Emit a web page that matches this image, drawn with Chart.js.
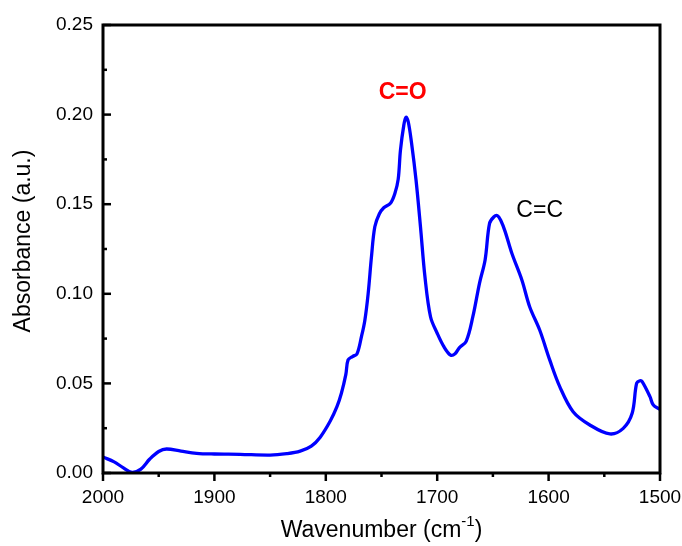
<!DOCTYPE html>
<html>
<head>
<meta charset="utf-8">
<script src="https://cdn.jsdelivr.net/npm/chart.js@4/dist/chart.umd.min.js"></script>
<style>
  html, body { margin: 0; padding: 0; background: #fff; }
  canvas { display: block; }
</style>
</head>
<body>
<canvas id="ftir-chart" width="682" height="546"></canvas>
<script>
// FTIR absorbance spectrum
const wavenumbers = [
  2000, 1990, 1982, 1974, 1966, 1958, 1950, 1943, 1930, 1916, 1900, 1877,
  1850, 1835, 1823, 1813, 1805, 1796, 1790, 1786, 1782, 1780, 1776, 1772,
  1768, 1765, 1762, 1759, 1756, 1752, 1748, 1742, 1738, 1735, 1733, 1730,
  1728, 1726, 1723, 1719, 1715, 1711, 1706, 1700, 1694, 1688, 1684, 1680,
  1674, 1668, 1662, 1657, 1653, 1649, 1646, 1643, 1639, 1633, 1624, 1617,
  1608, 1599, 1590, 1578, 1563, 1545, 1533, 1525, 1521, 1518, 1516, 1509,
  1506, 1500,
];
const absorbance = [
  0.0089, 0.0062, 0.0030, 0.0004, 0.0022, 0.0078, 0.0120, 0.0134, 0.0122, 0.0110, 0.0106, 0.0104,
  0.0100, 0.0108, 0.0122, 0.0150, 0.0200, 0.0290, 0.0370, 0.0445, 0.0550, 0.0631, 0.0650, 0.0665,
  0.0761, 0.0850, 0.1000, 0.1207, 0.1374, 0.1445, 0.1480, 0.1505, 0.1560, 0.1640, 0.1800, 0.1940,
  0.1985, 0.1960, 0.1840, 0.1635, 0.1374, 0.1095, 0.0872, 0.0780, 0.0705, 0.0658, 0.0665, 0.0700,
  0.0735, 0.0872, 0.1060, 0.1189, 0.1393, 0.1430, 0.1436, 0.1410, 0.1347, 0.1226, 0.1077, 0.0928,
  0.0798, 0.0631, 0.0482, 0.0342, 0.0268, 0.0218, 0.0249, 0.0333, 0.0500, 0.0515, 0.0510, 0.0426,
  0.0379, 0.0355,
];
const xTickValues = [2000, 1900, 1800, 1700, 1600, 1500];
const yTickValues = [0.00, 0.05, 0.10, 0.15, 0.20, 0.25];

const FONT = 'Arial, "Liberation Sans", sans-serif';

// frame, ticks, axis titles and peak labels
const framePlugin = {
  id: 'frame',
  afterDraw(chart) {
    const ctx = chart.ctx;
    const { left, right, top, bottom } = chart.chartArea;
    const xs = chart.scales.x;
    const ys = chart.scales.y;
    ctx.save();
    ctx.strokeStyle = '#000';
    ctx.lineWidth = 3;
    ctx.strokeRect(left, top, right - left, bottom - top);

    ctx.lineWidth = 2.5;
    // bottom ticks point outward
    for (let v = 1500; v <= 2000; v += 50) {
      const px = xs.getPixelForValue(v);
      const len = v % 100 === 0 ? 8 : 4;
      ctx.beginPath();
      ctx.moveTo(px, bottom);
      ctx.lineTo(px, bottom + len);
      ctx.stroke();
    }
    // left ticks point inward
    for (let i = 0; i <= 10; i++) {
      const v = i * 0.025;
      const py = ys.getPixelForValue(v);
      const len = i % 2 === 0 ? 8 : 4;
      ctx.beginPath();
      ctx.moveTo(left, py);
      ctx.lineTo(left + len, py);
      ctx.stroke();
    }

    // axis titles
    ctx.fillStyle = '#000';
    ctx.font = '23px ' + FONT;
    ctx.textAlign = 'center';
    ctx.textBaseline = 'middle';
    ctx.save();
    ctx.translate(24, (top + bottom) / 2 - 8);
    ctx.rotate(-Math.PI / 2);
    ctx.fillText('Absorbance (a.u.)', 0, 0);
    ctx.restore();

    const main = 'Wavenumber (cm';
    const sup = '-1';
    const tail = ')';
    ctx.font = '23px ' + FONT;
    const wMain = ctx.measureText(main).width;
    const wTail = ctx.measureText(tail).width;
    ctx.font = '15px ' + FONT;
    const wSup = ctx.measureText(sup).width;
    const x0 = (left + right) / 2 - (wMain + wSup + wTail) / 2;
    const yT = 531;
    ctx.textAlign = 'left';
    ctx.font = '23px ' + FONT;
    ctx.fillText(main, x0, yT);
    ctx.font = '15px ' + FONT;
    ctx.fillText(sup, x0 + wMain, yT - 9);
    ctx.font = '23px ' + FONT;
    ctx.fillText(tail, x0 + wMain + wSup, yT);

    // peak labels
    ctx.textAlign = 'center';
    ctx.font = 'bold 23px ' + FONT;
    ctx.fillStyle = '#ff0000';
    ctx.fillText('C=O', xs.getPixelForValue(1731), ys.getPixelForValue(0.2122));
    ctx.font = '23px ' + FONT;
    ctx.fillStyle = '#000';
    ctx.fillText('C=C', xs.getPixelForValue(1608), ys.getPixelForValue(0.1465));
    ctx.restore();
  },
};

const ctx = document.getElementById('ftir-chart').getContext('2d');

new Chart(ctx, {
  type: 'line',
  data: {
    datasets: [
      {
        data: wavenumbers.map((w, i) => ({ x: w, y: absorbance[i] })),
        borderColor: '#0000ff',
        borderWidth: 3.3,
        pointRadius: 0,
        tension: 0.35,
        fill: false,
      },
    ],
  },
  options: {
    responsive: false,
    animation: false,
    layout: { padding: { top: 25, right: 22, left: 0, bottom: 0 } },
    plugins: {
      legend: { display: false },
      tooltip: { enabled: false },
    },
    scales: {
      x: {
        type: 'linear',
        reverse: true,
        min: 1500,
        max: 2000,
        afterBuildTicks: (scale) => {
          scale.ticks = xTickValues.map((v) => ({ value: v }));
        },
        afterFit: (scale) => {
          scale.height = 73;
          scale.paddingLeft = 0;
          scale.paddingRight = 0;
        },
        grid: { display: false, drawTicks: false },
        border: { display: false },
        ticks: {
          padding: 13,
          color: '#000',
          font: { family: FONT, size: 19 },
          maxRotation: 0,
          callback: (v) => String(v),
        },
      },
      y: {
        min: 0,
        max: 0.25,
        afterBuildTicks: (scale) => {
          scale.ticks = yTickValues.map((v) => ({ value: v }));
        },
        afterFit: (scale) => {
          scale.width = 103;
          scale.paddingTop = 0;
          scale.paddingBottom = 0;
        },
        grid: { display: false, drawTicks: false },
        border: { display: false },
        ticks: {
          padding: 10,
          color: '#000',
          font: { family: FONT, size: 19 },
          callback: (v) => v.toFixed(2),
        },
      },
    },
  },
  plugins: [framePlugin],
});
</script>
</body>
</html>
